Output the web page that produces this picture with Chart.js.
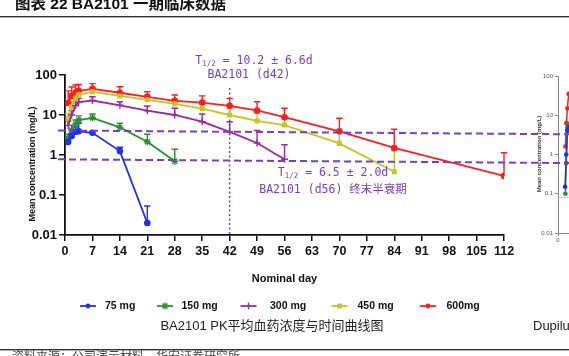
<!DOCTYPE html>
<html><head><meta charset="utf-8">
<script src="https://cdn.jsdelivr.net/npm/chart.js@4.4.1/dist/chart.umd.min.js"></script>
<style>
html,body{margin:0;padding:0;background:#fff;}
#wrap{position:relative;width:569px;height:356px;overflow:hidden;background:#fff;}
#side{position:absolute;left:528px;top:0;}
#main{position:absolute;left:0;top:0;}
</style></head><body>
<div id="wrap"><canvas id="side" width="200" height="356"></canvas><canvas id="main" width="569" height="356"></canvas></div>
<script>
// ---------- data ----------
const earlyDays = [0.8, 1.7, 2.7, 3.5];
const days75  = [...earlyDays, 7, 14, 21];
const days150 = [...earlyDays, 7, 14, 21, 28];
const days300 = [...earlyDays, 7, 14, 21, 28, 35, 42, 49, 56];
const days450 = [...earlyDays, 7, 14, 21, 28, 35, 42, 49, 56, 70, 84];
const days600 = [...earlyDays, 7, 14, 21, 28, 35, 42, 49, 56, 70, 84, 112];

const conc75  = [2.1, 3.0, 3.8, 3.9, 3.6, 1.25, 0.02];
const top75   = [2.4, 3.5, 5.0, 6.2, 3.9, 1.56, 0.053];
const conc150 = [2.6, 4.2, 6.0, 7.5, 8.5, 4.9, 2.15, 0.7];
const top150  = [3.3, 5.5, 7.5, 9.5, 10.6, 6.2, 3.3, 1.39];
const conc300 = [5.5, 10, 17, 21, 23, 17.5, 12.8, 10, 6.8, 3.8, 2.0, 0.78];
const top300  = [7, 13, 21, 26, 28.7, 21.5, 16.8, 14.7, 10.6, 6.8, 4.1, 1.8];
const conc450 = [8, 16, 26, 32, 38, 30, 24, 19, 14.5, 10, 7.1, 5.6, 1.95, 0.38];
const top450  = [11, 21, 33, 40, 48, 38, 30, 24, 19, 14, 11, 8, 3.8, 1.3];
const conc600 = [20, 30, 37, 40, 45, 36, 28.5, 22.5, 20.5, 17, 13, 8.8, 3.9, 1.5, 0.3];
const top600  = [40, 50, 56, 58, 61, 51, 38, 31.6, 30, 26, 21.5, 14.7, 8.3, 4.4, 1.14];

const seriesLabels = ['75 mg', '150 mg', '300 mg', '450 mg', '600mg'];
const xTicks = [0, 7, 14, 21, 28, 35, 42, 49, 56, 63, 70, 77, 84, 91, 98, 105, 112];
const yTicks = [0.01, 0.1, 1, 10, 100];
const yTickLabels = ['0.01', '0.1', '1', '10', '100'];
const upperRef = [4.1, 3.3];   // dashed line value at left / right end
const lowerRef = [0.78, 0.63];
const refDay = 42;
const refDayTop = 47;

const titleText = '图表 22 BA2101 一期临床数据';
const xTitle = 'Nominal day';
const yTitle = 'Mean concentration (mg/L)';
const subTitle = 'BA2101 PK平均血药浓度与时间曲线图';
const sourceText = '资料来源：公司演示材料，华安证券研究所';
const sideName = 'Dupilu';
const note1a = ' = 10.2 ± 6.6d', note1b = 'BA2101 (d42)';
const note2a = ' = 6.5 ± 2.0d',  note2b = 'BA2101 (d56) 终末半衰期';

// side (cropped) chart
const sideDaysRed = [4.5, 5.1, 5.7, 6.5, 8];
const sideRed     = [1.6, 6.3, 15, 35, 40];
const sideDaysGreen = [4.5, 5.0, 5.7, 6.5];
const sideGreen     = [0.1, 0.6, 4.5, 6];
const sideDaysBlue  = [4.3, 5.0, 5.8, 6.5];
const sideBlue      = [0.15, 1.0, 4.0, 5];
const sideYTicks = [0.01, 0.1, 1, 10, 100];
const sideRef = 0.08;

// ---------- styles ----------
const colors = ['#2030ee', '#2a9030', '#9a2aa4', '#c6c622', '#ff1c1c'];
const pStyles = ['circle', 'star', 'cross', 'rect', 'circle'];
const purple = '#7a3fc0';
const FONT = 'Liberation Sans, Arial, sans-serif';
const CJK = '"Liberation Sans", "Noto Sans CJK SC", sans-serif';

const pts = (d, v) => d.map((x, i) => ({x, y: v[i]}));
const allDays = [days75, days150, days300, days450, days600];
const allConc = [conc75, conc150, conc300, conc450, conc600];
const allTop  = [top75, top150, top300, top450, top600];

const datasets = seriesLabels.map((lab, i) => ({
  label: lab, data: pts(allDays[i], allConc[i]), errTop: allTop[i],
  borderColor: colors[i], backgroundColor: colors[i],
  pointStyle: pStyles[i], pointRadius: pStyles[i] === 'star' || pStyles[i] === 'cross' ? 3.5 : 2.6,
  pointBorderWidth: 1.4, borderWidth: 1.8, tension: 0, fill: false
}));

function marker(ctx, style, x, y, r, color) {
  ctx.save(); ctx.fillStyle = color; ctx.strokeStyle = color; ctx.lineWidth = 1.4;
  ctx.beginPath();
  if (style === 'circle') { ctx.arc(x, y, r, 0, Math.PI * 2); ctx.fill(); }
  else if (style === 'rect') { ctx.fillRect(x - r, y - r, 2 * r, 2 * r); }
  else {
    const R = r + 1;
    ctx.moveTo(x, y - R); ctx.lineTo(x, y + R);
    if (style === 'star') {
      const d = R * 0.75;
      ctx.moveTo(x - d, y - d); ctx.lineTo(x + d, y + d);
      ctx.moveTo(x - d, y + d); ctx.lineTo(x + d, y - d);
    }
    ctx.stroke();
  }
  ctx.restore();
}

function halfLife(ctx, cx, cy, rest) {
  const big = '11.5px "DejaVu Sans Mono", monospace', small = '7.5px "DejaVu Sans Mono", monospace';
  ctx.font = big; const wT = ctx.measureText('T').width, wR = ctx.measureText(rest).width;
  ctx.font = small; const wS = ctx.measureText('1/2').width;
  let x = cx - (wT + wS + wR) / 2;
  ctx.textAlign = 'left'; ctx.textBaseline = 'middle';
  ctx.font = big; ctx.fillText('T', x, cy); x += wT;
  ctx.font = small; ctx.fillText('1/2', x, cy + 3); x += wS;
  ctx.font = big; ctx.fillText(rest, x, cy);
}

const deco = {
  id: 'deco',
  beforeDraw(chart) {
    const ctx = chart.ctx;
    ctx.save();
    ctx.fillStyle = '#111';
    ctx.font = 'bold 15.5px ' + CJK; ctx.textBaseline = 'middle'; ctx.textAlign = 'left';
    ctx.fillText(titleText, 15, 5);
    ctx.fillStyle = '#333';
    ctx.fillRect(0, 16, 569, 1.4);
    ctx.fillRect(0, 349, 569, 1.4);
    ctx.fillStyle = '#444'; ctx.font = '12px ' + CJK; ctx.textBaseline = 'top';
    ctx.fillText(sourceText, 12, 352);
    ctx.restore();
  },
  beforeDatasetsDraw(chart) {
    const ctx = chart.ctx, xs = chart.scales.x, ys = chart.scales.y;
    ctx.save();
    const vx = xs.getPixelForValue(refDay);
    ctx.strokeStyle = purple; ctx.lineWidth = 1.5; ctx.setLineDash([2, 2.5]);
    ctx.beginPath(); ctx.moveTo(vx, ys.getPixelForValue(refDayTop)); ctx.lineTo(vx, chart.chartArea.bottom); ctx.stroke();
    ctx.setLineDash([]);
    chart.data.datasets.forEach((ds, i) => {
      const meta = chart.getDatasetMeta(i);
      ctx.strokeStyle = ds.borderColor; ctx.lineWidth = 1.4;
      meta.data.forEach((p, j) => {
        const yt = ys.getPixelForValue(ds.errTop[j]);
        ctx.beginPath(); ctx.moveTo(p.x, p.y); ctx.lineTo(p.x, yt);
        ctx.moveTo(p.x - 3.2, yt); ctx.lineTo(p.x + 3.2, yt); ctx.stroke();
      });
    });
    ctx.restore();
  },
  afterDatasetsDraw(chart) {
    const ctx = chart.ctx, ys = chart.scales.y, a = chart.chartArea;
    ctx.save();
    ctx.strokeStyle = purple; ctx.lineWidth = 2; ctx.setLineDash([7, 4]);
    [upperRef, lowerRef].forEach(r => {
      ctx.beginPath();
      ctx.moveTo(a.left - 7, ys.getPixelForValue(r[0]));
      ctx.lineTo(chart.width, ys.getPixelForValue(r[1]));
      ctx.stroke();
    });
    ctx.restore();
  },
  afterDraw(chart) {
    const ctx = chart.ctx;
    ctx.save();
    ctx.fillStyle = purple;
    halfLife(ctx, 254, 61, note1a);
    ctx.font = '11.5px "DejaVu Sans Mono", monospace'; ctx.textAlign = 'center';
    ctx.fillText(note1b, 249, 75);
    halfLife(ctx, 333, 173, note2a);
    ctx.font = '11.5px "DejaVu Sans Mono", "Noto Sans CJK SC", monospace'; ctx.textAlign = 'center';
    ctx.fillText(note2b, 333, 190);
    ctx.fillStyle = '#111';
    ctx.font = 'bold 11px ' + FONT; ctx.textAlign = 'center'; ctx.textBaseline = 'middle';
    ctx.fillText(xTitle, (chart.chartArea.left + chart.chartArea.right) / 2, 279);
    ctx.save(); ctx.translate(33, 164); ctx.rotate(-Math.PI / 2);
    ctx.font = 'bold 9px ' + FONT; ctx.fillText(yTitle, 0, 0); ctx.restore();
    const mx = [88, 165, 248.5, 339.5, 428], tx = [105, 181.5, 270, 357.5, 446.5];
    seriesLabels.forEach((lab, i) => {
      ctx.strokeStyle = colors[i]; ctx.lineWidth = 1.8;
      ctx.beginPath(); ctx.moveTo(mx[i] - 8, 306); ctx.lineTo(mx[i] + 8, 306); ctx.stroke();
      marker(ctx, pStyles[i], mx[i], 306, 2.4, colors[i]);
      ctx.fillStyle = '#111'; ctx.font = 'bold 10.5px ' + FONT; ctx.textAlign = 'left';
      ctx.fillText(lab, tx[i], 306);
    });
    ctx.fillStyle = '#222'; ctx.font = '13px ' + CJK; ctx.textAlign = 'center';
    ctx.fillText(subTitle, 272, 326);
    ctx.textAlign = 'left'; ctx.fillText(sideName, 533, 326);
    ctx.restore();
  }
};

const axisCommon = {
  grid: {drawOnChartArea: false, drawTicks: true, tickLength: 6, color: '#111', lineWidth: 1.5},
  border: {display: true, color: '#111', width: 1.8}
};

new Chart(document.getElementById('main'), {
  type: 'line',
  data: {datasets},
  options: {
    responsive: false, animation: false, events: [],
    layout: {padding: {left: 0, top: 75, right: 65, bottom: 91}},
    plugins: {legend: {display: false}, tooltip: {enabled: false}},
    scales: {
      x: Object.assign({type: 'linear', min: 0, max: 112,
        afterBuildTicks: s => { s.ticks = xTicks.map(v => ({value: v})); },
        afterFit: s => { s.height = 30; },
        ticks: {font: {family: FONT, size: 12.5, weight: 'bold'}, color: '#111', padding: 3, maxRotation: 0, autoSkip: false}
      }, axisCommon),
      y: Object.assign({type: 'logarithmic', min: 0.01, max: 100,
        afterBuildTicks: s => { s.ticks = yTicks.map(v => ({value: v})); },
        afterFit: s => { s.width = 65; },
        ticks: {font: {family: FONT, size: 13, weight: 'bold'}, color: '#111', padding: 2, autoSkip: false,
          callback: v => yTickLabels[yTicks.indexOf(v)] ?? ''}
      }, axisCommon)
    }
  },
  plugins: [deco]
});

// ---------- side (cropped) chart ----------
const sideDeco = {
  id: 'sideDeco',
  beforeDatasetsDraw(chart) {
    const ctx = chart.ctx, ys = chart.scales.y, a = chart.chartArea;
    ctx.save(); ctx.strokeStyle = '#aaa'; ctx.lineWidth = 1; ctx.setLineDash([1.5, 1.5]);
    const y = ys.getPixelForValue(sideRef);
    ctx.beginPath(); ctx.moveTo(a.left, y); ctx.lineTo(a.right, y); ctx.stroke(); ctx.restore();
  },
  afterDraw(chart) {
    const ctx = chart.ctx;
    ctx.save(); ctx.translate(11, 154); ctx.rotate(-Math.PI / 2);
    ctx.fillStyle = '#333'; ctx.font = 'bold 6px ' + FONT; ctx.textAlign = 'center'; ctx.textBaseline = 'middle';
    ctx.fillText(yTitle, 0, 0); ctx.restore();
  }
};
const sideSets = [[sideDaysBlue, sideBlue, colors[0]], [sideDaysGreen, sideGreen, colors[1]], [sideDaysRed, sideRed, colors[4]]]
  .map(([d, v, c]) => ({data: pts(d, v), borderColor: c, backgroundColor: c, pointRadius: 1.6, borderWidth: 1.5, tension: 0}));
new Chart(document.getElementById('side'), {
  type: 'line',
  data: {datasets: sideSets},
  options: {
    responsive: false, animation: false, events: [],
    layout: {padding: {left: 0, top: 76, right: 0, bottom: 103}},
    plugins: {legend: {display: false}, tooltip: {enabled: false}},
    scales: {
      x: {type: 'linear', min: 0, max: 100,
        afterBuildTicks: s => { s.ticks = [{value: 0}]; }, afterFit: s => { s.height = 20; },
        grid: {drawOnChartArea: false, tickLength: 3, color: '#888'}, border: {color: '#888'},
        ticks: {font: {family: FONT, size: 6}, color: '#555', padding: 1}},
      y: {type: 'logarithmic', min: 0.01, max: 100,
        afterBuildTicks: s => { s.ticks = sideYTicks.map(v => ({value: v})); }, afterFit: s => { s.width = 30; },
        grid: {drawOnChartArea: false, tickLength: 3, color: '#888'}, border: {color: '#888'},
        ticks: {font: {family: FONT, size: 6}, color: '#555', padding: 2, callback: v => String(v)}}
    }
  },
  plugins: [sideDeco]
});
</script>
</body></html>
